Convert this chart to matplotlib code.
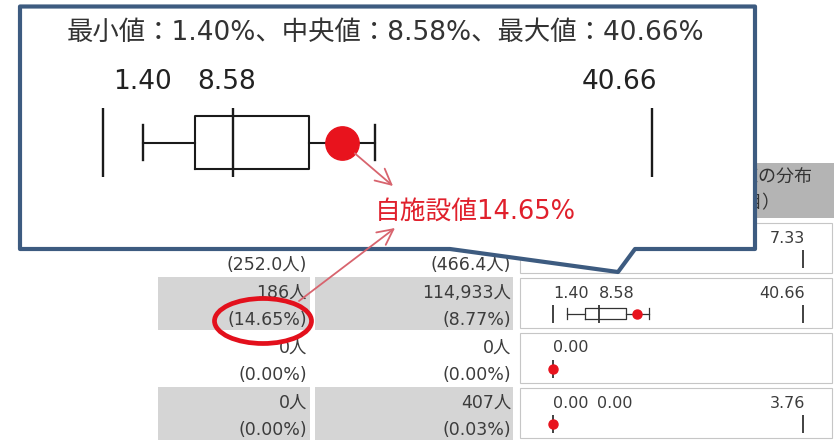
import numpy as np
import matplotlib
matplotlib.use("Agg")
import matplotlib.pyplot as plt
from matplotlib.patches import Polygon, Rectangle, Ellipse

plt.rcParams['font.family'] = ['DejaVu Sans', 'Noto Sans CJK JP']

# ---- table rows (indicator per row) ----
row_units = ["人", "%", "%", "%"]
own_counts = [None, 186, 0, 0]
own_values = [252.0, 14.65, 0.00, 0.00]
all_counts = [None, 114933, 0, 407]
all_values = [466.4, 8.77, 0.00, 0.03]

# ---- distribution of facility values per row ----
dist_min = [None, 1.40, 0.00, 0.00]
dist_med = [None, 8.58, 0.00, 0.00]
dist_max = [7.33, 40.66, 0.00, 3.76]
dist_q1 = [None, 6.5, 0.00, 0.00]
dist_q3 = [None, 12.8, 0.00, 0.00]
dist_whislo = [None, 3.6, 0.00, 0.00]
dist_whishi = [None, 16.5, 0.00, 0.00]

header_lines = ["全施設の施設値の分布", "（項目）"]
focus_row = 1
own_label = "自施設値"

# ---- figure / layout ----
W, H, DPI = 834, 441, 100
fig = plt.figure(figsize=(W / DPI, H / DPI), dpi=DPI)
fig.patch.set_facecolor('white')

TEXT = '#3c3c3c'
GRAY_CELL = '#d5d5d5'
HEAD_CELL = '#b4b4b4'
RED = '#e8131d'
NAVY = '#3d5b80'
ARROW = '#d8646e'
ROW0, PITCH = 223, 55
TABLE_FS = 12.5


def px_axes(x0, y0, x1, y1, z):
    ax = fig.add_axes([x0 / W, 1 - y1 / H, (x1 - x0) / W, (y1 - y0) / H])
    ax.set_zorder(z)
    ax.set_axis_off()
    return ax


def canvas_axes(z):
    ax = px_axes(0, 0, W, H, z)
    ax.set_xlim(0, W)
    ax.set_ylim(H, 0)
    return ax


def fmt_value(v, unit):
    return f"({v:.1f}人)" if unit == "人" else f"({v:.2f}%)"


def box_stats(i):
    return dict(med=dist_med[i], q1=dist_q1[i], q3=dist_q3[i],
                whislo=dist_whislo[i], whishi=dist_whishi[i], fliers=[])


base = canvas_axes(0)

# header cell of the distribution column
base.add_patch(Rectangle((520, 163), 314, 55, fc=HEAD_CELL, ec='none'))
base.text(812, 177, header_lines[0], ha='right', va='center', fontsize=13, color='#333')
base.text(780, 203, header_lines[1], ha='right', va='center', fontsize=13, color='#333')

for i in range(len(row_units)):
    top = ROW0 + i * PITCH
    shade = GRAY_CELL if i % 2 else 'white'
    base.add_patch(Rectangle((158, top - 1), 152, 53, fc=shade, ec='none'))
    base.add_patch(Rectangle((315, top - 1), 198, 53, fc=shade, ec='none'))
    base.add_patch(Rectangle((520, top), 312, 50, fc='white', ec='#c6c6c6', lw=0.8))

    if own_counts[i] is not None:
        base.text(307, top + 15, f"{own_counts[i]:,}人", ha='right', va='center',
                  fontsize=TABLE_FS, color=TEXT)
    base.text(307, top + 42, fmt_value(own_values[i], row_units[i]), ha='right',
              va='center', fontsize=TABLE_FS, color=TEXT)
    if all_counts[i] is not None:
        base.text(511, top + 15, f"{all_counts[i]:,}人", ha='right', va='center',
                  fontsize=TABLE_FS, color=TEXT)
    base.text(511, top + 42, fmt_value(all_values[i], row_units[i]), ha='right',
              va='center', fontsize=TABLE_FS, color=TEXT)

    # small distribution plot
    ax = px_axes(553, top + 27, 803, top + 45, 1)
    lo = dist_min[i] if dist_min[i] is not None else 0.0
    hi = dist_max[i] if dist_max[i] > lo else lo + 1.0
    ax.set_xlim(lo, hi)
    ax.set_ylim(0, 1)
    xt = ax.get_xaxis_transform()
    lab = dict(xycoords=xt, textcoords='offset pixels', va='center', fontsize=11.5,
               color=TEXT, annotation_clip=False)
    line = dict(color='#333333', lw=1.3, clip_on=False)

    if dist_min[i] is not None:
        ax.vlines(dist_min[i], 0, 1, **line)
        ax.annotate(f"{dist_min[i]:.2f}", xy=(dist_min[i], 1), xytext=(0, 12),
                    ha='left', **lab)
    if dist_max[i] > lo:
        ax.vlines(dist_max[i], 0, 1, **line)
        ax.annotate(f"{dist_max[i]:.2f}", xy=(dist_max[i], 1), xytext=(2, 12),
                    ha='right', **lab)
        if dist_med[i] is not None:
            med_off = (ax.transData.transform((dist_med[i], 0))[0]
                       - ax.transData.transform((lo, 0))[0])
            shift = max(0.0, 44 - med_off)
            ax.annotate(f"{dist_med[i]:.2f}", xy=(dist_med[i], 1), xytext=(shift, 12),
                        ha='left', **lab)
    if dist_whishi[i] is not None and dist_whishi[i] > dist_whislo[i]:
        props = dict(color='#333333', lw=0.9)
        ax.bxp([box_stats(i)], positions=[0.525], widths=0.66, orientation='horizontal',
               showfliers=False, manage_ticks=False, capwidths=0.66,
               boxprops=props, whiskerprops=props, capprops=props,
               medianprops=dict(lw=0))
        ax.vlines(dist_med[i], 0, 1, **line)
        for a in ax.lines + ax.collections:
            a.set_clip_on(False)
    if row_units[i] == "%":
        ax.plot(own_values[i], 0.525, 'o', color=RED, ms=6.5, mec=RED, clip_on=False,
                zorder=5)

# ---- callout with the enlarged plot ----
cal = canvas_axes(3)
outline = [(20, 6.5), (755, 6.5), (755, 249), (635, 249), (618, 272), (450, 249), (20, 249)]
cal.add_patch(Polygon(outline, closed=True, fc='white', ec=NAVY, lw=3, joinstyle='round'))

f = focus_row
title = (f"最小値：{dist_min[f]:.2f}%、中央値：{dist_med[f]:.2f}%、"
         f"最大値：{dist_max[f]:.2f}%")
cal.text(386, 33, title, ha='center', va='center', fontsize=19, color='#333')

BREAK, SQUEEZE = 18.0, 0.61


def squeeze(v):
    v = np.asarray(v, dtype=float)
    return np.where(v <= BREAK, v, BREAK + (v - BREAK) * SQUEEZE)


def unsqueeze(u):
    u = np.asarray(u, dtype=float)
    return np.where(u <= BREAK, u, BREAK + (u - BREAK) / SQUEEZE)


bx = px_axes(103, 108, 652, 177, 4)
bx.set_xscale('function', functions=(squeeze, unsqueeze))
bx.set_xlim(dist_min[f], dist_max[f])
bx.set_ylim(0, 1)
big = dict(color='#1a1a1a', lw=1.7, clip_on=False)
bx.vlines([dist_min[f], dist_max[f]], 0, 1, **big)
props = dict(color='#1a1a1a', lw=1.5)
bx.bxp([box_stats(f)], positions=[0.5], widths=0.77, orientation='horizontal',
       showfliers=False, manage_ticks=False, capwidths=0.5,
       boxprops=props, whiskerprops=props, capprops=dict(color='#1a1a1a', lw=1.7),
       medianprops=dict(lw=0))
bx.vlines(dist_med[f], 0, 1, **big)
for a in bx.lines + bx.collections:
    a.set_clip_on(False)
bx.plot(own_values[f], 0.5, 'o', color=RED, ms=24, mec=RED, clip_on=False, zorder=5)

blab = dict(xycoords=bx.get_xaxis_transform(), textcoords='offset pixels', va='center',
            fontsize=19, color='#222', annotation_clip=False)
bx.annotate(f"{dist_min[f]:.2f}", xy=(dist_min[f], 1), xytext=(10, 26), ha='left', **blab)
bx.annotate(f"{dist_med[f]:.2f}", xy=(dist_med[f], 1), xytext=(-6, 26), ha='center', **blab)
bx.annotate(f"{dist_max[f]:.2f}", xy=(dist_max[f], 1), xytext=(5, 26), ha='right', **blab)

# ---- highlight marks ----
fx = canvas_axes(5)
fx.add_patch(Ellipse((263, 321), 97, 45, fill=False, ec='#e3101c', lw=3.4))
fx.text(375, 212, f"{own_label}{own_values[f]:.2f}%", ha='left', va='center',
        fontsize=18.5, color='#e0202c')
arrow = dict(arrowstyle='->,head_length=0.7,head_width=0.35', color=ARROW, lw=1.3,
             shrinkB=0, mutation_scale=16)
fx.annotate("", xy=(393, 186), xycoords='data', xytext=(own_values[f], 0.5),
            textcoords=bx.transData, arrowprops=dict(shrinkA=12, **arrow))
fx.annotate("", xy=(395, 228), xytext=(299, 301), arrowprops=dict(shrinkA=0, **arrow))

fig.savefig("out.png", dpi=DPI, facecolor='white')
